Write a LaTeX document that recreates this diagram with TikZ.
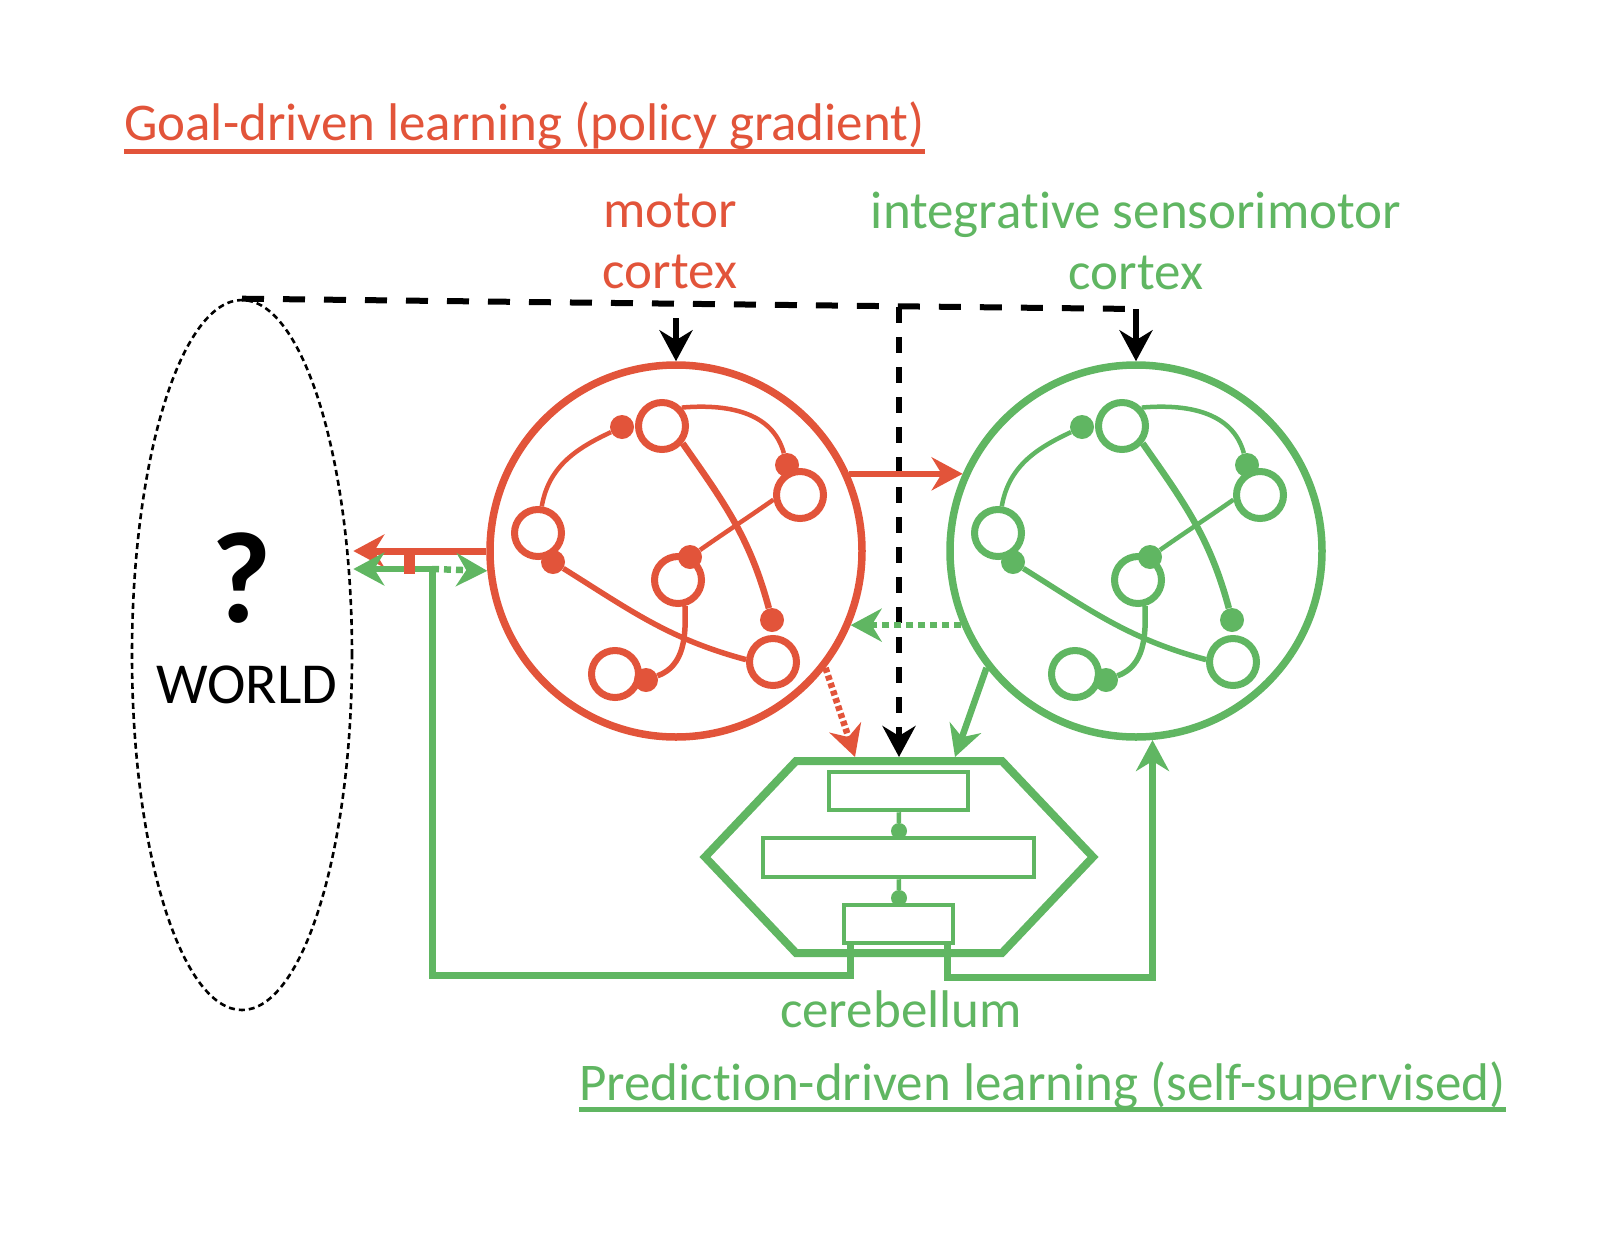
\documentclass[tikz,border=0pt]{standalone}
\usepackage{fontspec}
\setmainfont{Carlito}[Ligatures=NoCommon]
\usepackage{xcolor}
\usepackage{tikz}
\usetikzlibrary{arrows.meta,positioning,shapes.geometric,calc}
\definecolor{goalred}{RGB}{226,84,58}
\definecolor{predgreen}{RGB}{96,182,98}
\newcommand\labfont{\fontsize{53}{61}\selectfont}

\begin{document}
\begin{tikzpicture}[
  x=1pt, y=-1pt,
  cortex/.style = {circle, draw, line width=7.5pt, minimum size=372pt, inner sep=0pt},
  neuron/.style = {circle, draw, line width=7pt, minimum size=47pt, inner sep=0pt},
  syn/.style = {circle, fill, minimum size=24pt, inner sep=0pt},
  cbox/.style = {rectangle, draw=predgreen, line width=4.5pt, inner sep=0pt},
  cdot/.style = {circle, fill=predgreen, minimum size=16pt, inner sep=0pt},
  lab/.style = {font=\labfont, align=center, inner sep=0pt},
  arr/.style = {-{Stealth[length=31pt,width=33pt,inset=10pt]}, line width=6.5pt},
  kdash/.style = {black, line width=6pt, dash pattern=on 22pt off 19pt},
  dotline/.style = {dash pattern=on 7pt off 5pt}
]
  \useasboundingbox (0,0) rectangle (1598,1242);

  % titles
  \node[lab, goalred, anchor=base west] (goaltitle) at (124,140) {Goal-driven learning (policy gradient)};
  \draw[goalred, line width=5pt] ([yshift=-11pt]goaltitle.base west) -- ([yshift=-11pt]goaltitle.base east);
  \node[lab, predgreen, anchor=base west] (predtitle) at (579,1100) {Prediction-driven learning (self-supervised)};
  \draw[predgreen, line width=5pt] ([yshift=-9pt]predtitle.base west) -- ([yshift=-9pt]predtitle.base east);

  % world
  \node[ellipse, draw, line width=2.6pt, dash pattern=on 6pt off 4pt,
        minimum width=220pt, minimum height=710pt, inner sep=0pt] (world) at (242,655) {};
  \node[font=\fontsize{130}{130}\selectfont\bfseries, inner sep=0pt] (qmark) at (242,578) {?};
  \node[font=\fontsize{58}{58}\selectfont, inner sep=0pt] (wlabel) at (247,685) {WORLD};

  % cortices
  \node[cortex, goalred]   (motor)   at (676,551) {};
  \node[cortex, predgreen] (sensori) at (1136,551) {};
  \node[lab, goalred]   (mlabel) at (670,241)  {motor\\cortex};
  \node[lab, predgreen] (slabel) at (1136,241) {integrative sensorimotor\\cortex};

  \foreach \cc/\dx/\p in {goalred/0/m, predgreen/460/s}{
    \begin{scope}[xshift=\dx, \cc]
      \node[neuron] (\p1) at (662,426) {};
      \node[neuron] (\p2) at (800,495) {};
      \node[neuron] (\p3) at (538,533) {};
      \node[neuron] (\p4) at (678,580) {};
      \node[neuron] (\p5) at (615,674) {};
      \node[neuron] (\p6) at (773,662) {};
      \node[syn] (\p s1) at (622,427) {};
      \node[syn] (\p s2) at (787,465) {};
      \node[syn] (\p s3) at (553,562) {};
      \node[syn] (\p s4) at (690,557) {};
      \node[syn] (\p s5) at (772,620) {};
      \node[syn] (\p s6) at (646,680) {};
      \draw[line width=4.5pt] (\p3.82) to[out=80, in=205] (\p s1);
      \draw[line width=4.5pt] (\p1.43) to[out=5, in=105] (\p s2);
      \draw[line width=6.5pt] (\p1.-40) to[out=-55, in=105] (\p s5);
      \draw[line width=4.5pt] (\p2.190) to[out=215, in=35] (\p s4);
      \draw[line width=5.5pt] (\p s3) to[out=-32, in=165] (\p6.175);
      \draw[line width=5.5pt] (\p4.-75) to[out=-88, in=20] (\p s6);
    \end{scope}
  }

  % cerebellum
  \draw[predgreen, line width=8pt] (796,761) -- (1002,761) -- (1093,857) -- (1002,953)
    -- (796,953) -- (705,857) -- cycle;
  \node[cbox, minimum width=139pt, minimum height=38pt] (cb1) at (898.5,791) {};
  \node[cbox, minimum width=271pt, minimum height=39pt] (cb2) at (898.5,857.5) {};
  \node[cbox, minimum width=109pt, minimum height=38pt] (cb3) at (898.5,924) {};
  \node[cdot] (cbd1) at (899,831) {};
  \node[cdot] (cbd2) at (899,898) {};
  \draw[predgreen, line width=4.5pt] (cb1) -- (cbd1);
  \draw[predgreen, line width=4.5pt] (cb2) -- (cbd2);
  \node[lab, predgreen] (cblabel) at (901,1009) {cerebellum};
  \coordinate (cbr) at (855,757);
  \coordinate (cbk) at (899,757);
  \coordinate (cbg) at (955,757);

  % top (black) connections
  \coordinate (kcorner) at (1136,309);
  \coordinate (kjunc) at (899,307);
  \coordinate (kmotor) at (676,318);
  \draw[kdash] (world.north) -- (kcorner);
  \draw[arr, black, line width=6.5pt] (kcorner) -- (sensori.north);
  \draw[arr, black, line width=6.5pt] (kmotor) -- (motor.north);
  \draw[arr, kdash, dash pattern=on 16pt off 14pt] (kjunc) -- (cbk);

  % between cortices
  \draw[arr, goalred, line width=6pt] (motor.24) -- (sensori.156);
  \draw[arr, predgreen, dotline] (sensori.203) -- (motor.-23);
  \draw[arr, goalred, dash pattern=on 5pt off 3pt] (motor.-38) -- (cbr);
  \draw[arr, predgreen] (sensori.218) -- (cbg);

  % to and from the world
  \coordinate (gj) at (432,569);
  \draw[arr, goalred, line width=7pt] (motor.west) -- (world.east |- motor.west);
  \draw[arr, predgreen] (gj) -- (world.east |- gj);
  \draw[arr, predgreen, dotline] (gj) -- (motor.186);
  \draw[predgreen, line width=7pt] (cb3.south west) ++(9,0) -- ++(0,30) -| (gj);
  \draw[arr, predgreen, line width=7pt] (cb3.south east) ++(-8,0) -- ++(0,32) -| (sensori.-85);
  \node[fill=goalred, minimum width=11pt, minimum height=26pt, inner sep=0pt] (rtick) at (409,561) {};
\end{tikzpicture}
\end{document}
